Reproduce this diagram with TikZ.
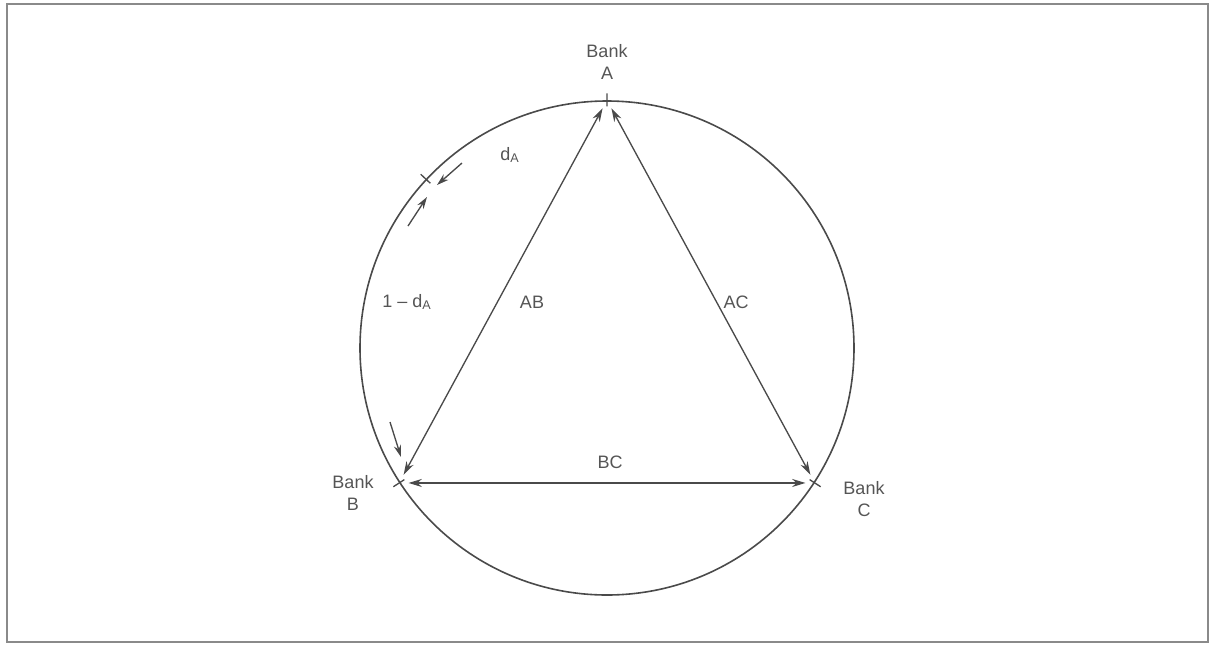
\documentclass[tikz,border=0pt]{standalone}
\usepackage{fontspec}
\setmainfont{Liberation Sans}
\usetikzlibrary{arrows.meta,calc}
\definecolor{ink}{HTML}{4A4A4A}
\definecolor{txt}{HTML}{555555}
\definecolor{framec}{HTML}{8A8A8A}
\tikzset{
  lbl/.style={text=txt, font=\fontsize{13.5}{16.5}\selectfont, inner sep=0pt, align=center},
  twoway/.style={draw=ink, line width=1pt, {Stealth[length=10pt,width=6pt]}-{Stealth[length=10pt,width=6pt]}, shorten <=7pt, shorten >=7pt},
  oneway/.style={draw=ink, line width=1pt, -{Stealth[length=9pt,width=5.5pt]}},
  tickmark/.style={draw=ink, line width=1pt}
}
\begin{document}
\begin{tikzpicture}[x=0.75pt, y=-0.75pt]
\useasboundingbox (0,0) rectangle (1211,644);
\draw[framec, line width=1.1pt, fill=white] (7,4) rectangle (1208,642);

\node[circle, draw=ink, line width=1.2pt, minimum size=370.5pt, inner sep=0pt] (circ) at (607,348) {};

\coordinate (A) at (circ.90);
\coordinate (B) at (circ.213);
\coordinate (C) at (circ.327);
\coordinate (D) at (circ.137);

% tick marks
\foreach \p in {A,B,C,D}{
  \draw[tickmark] ($(circ.center)!0.975!(\p)$) -- ($(circ.center)!1.028!(\p)$);
}

% triangle connectors
\draw[twoway] (B) -- (A);
\draw[twoway] (A) -- (C);
\draw[twoway] (B) -- (C);

% small arrows
\coordinate (s1) at (462,163); \coordinate (t1) at (437,185);
\coordinate (s2) at (408,226); \coordinate (t2) at (427,197);
\coordinate (s3) at (390,422); \coordinate (t3) at (401,457);
\draw[oneway] (s1) -- (t1);
\draw[oneway] (s2) -- (t2);
\draw[oneway] (s3) -- (t3);

% labels
\node[lbl] (lA) at (607,62) {Bank\\A};
\node[lbl] (lB) at (353,493) {Bank\\B};
\node[lbl] (lC) at (864,499) {Bank\\C};
\node[lbl] (ldA) at (510,155) {d\textsubscript{A}};
\node[lbl] (l1dA) at (407,302) {1 -- d\textsubscript{A}};
\node[lbl] (lAB) at (532,302) {AB};
\node[lbl] (lAC) at (736,302) {AC};
\node[lbl] (lBC) at (610,462) {BC};
\end{tikzpicture}
\end{document}
